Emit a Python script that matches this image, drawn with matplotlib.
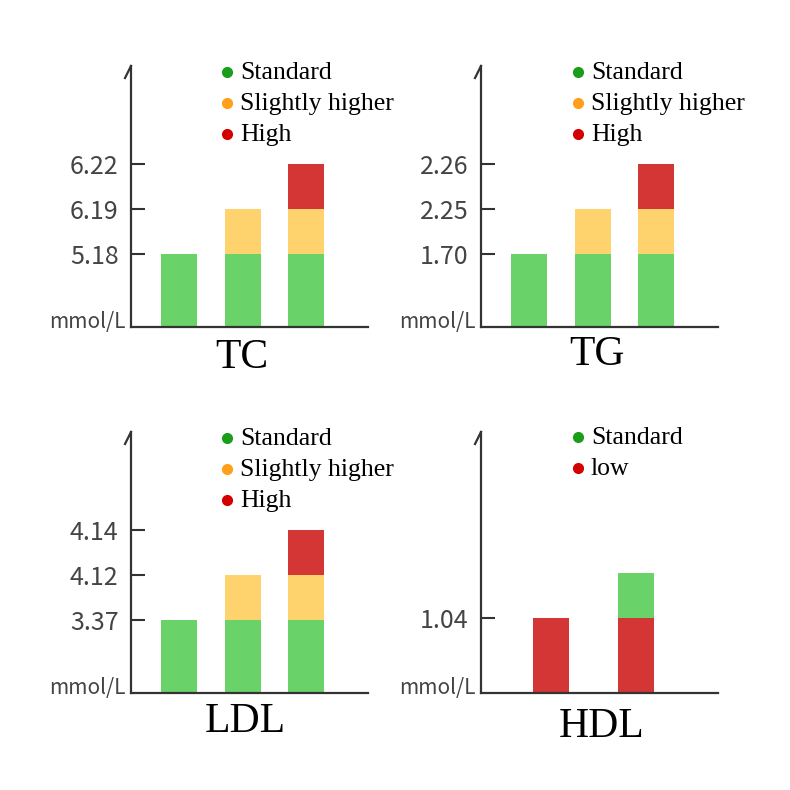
import matplotlib.pyplot as plt
from matplotlib.lines import Line2D

# panel names and the tick labels on each y axis
panels = ["TC", "TG", "LDL", "HDL"]
tick_labels = {
    "TC": ["5.18", "6.19", "6.22"],
    "TG": ["1.70", "2.25", "2.26"],
    "LDL": ["3.37", "4.12", "4.14"],
    "HDL": ["1.04"],
}

# stacked segment heights (in tick steps) for the three-bar panels
three_standard = [1.62, 1.62, 1.62]
three_slightly = [0, 1.0, 1.0]
three_high = [0, 0, 1.0]
three_legend = ["Standard", "Slightly higher", "High"]

# HDL: low part at bottom, standard on top
hdl_low = [1.67, 1.67]
hdl_standard = [0, 1.0]
hdl_legend = ["Standard", "low"]

bar_green = "#69d36a"
bar_yellow = "#fed36e"
bar_red = "#d43535"
dot_green = "#1a9e1a"
dot_orange = "#ff9f1a"
dot_red = "#d40000"
axis_col = "#333333"

W = H = 790
fig = plt.figure(figsize=(7.9, 7.9), dpi=100)

# pixel layout of each panel: axis left x, axis bottom y (from top)
layout = {
    "TC": (131, 327),
    "TG": (481, 327),
    "LDL": (131, 693),
    "HDL": (481, 693),
}
ax_w, ax_h = 237, 261
title_pos = {"TC": (242, 358), "TG": (597, 355), "LDL": (245, 722), "HDL": (602, 727)}
legend_pos = {"TC": (227, 72), "TG": (578, 72), "LDL": (227, 438), "HDL": (578, 437)}

serif = ["Liberation Serif", "DejaVu Serif"]
sans = ["Noto Sans CJK SC", "DejaVu Sans"]

for name in panels:
    x0, yb = layout[name]
    ax = fig.add_axes([x0 / W, (H - yb) / H, ax_w / W, ax_h / H])
    ax.set_ylim(0, ax_h / 45)

    if name == "HDL":
        spacing = 85
        ax.set_xlim(1 - 70 / spacing, 1 - 70 / spacing + ax_w / spacing)
        xs = [1, 2]
        bw = 36 / spacing
        ax.bar(xs, hdl_low, width=bw, color=bar_red)
        ax.bar(xs, hdl_standard, width=bw, bottom=hdl_low, color=bar_green)
        ticks = [hdl_low[0]]
        leg = hdl_legend
        dots = [dot_green, dot_red]
    else:
        spacing = 63.5
        ax.set_xlim(1 - 48 / spacing, 1 - 48 / spacing + ax_w / spacing)
        xs = [1, 2, 3]
        bw = 36 / spacing
        ax.bar(xs, three_standard, width=bw, color=bar_green)
        ax.bar(xs, three_slightly, width=bw, bottom=three_standard, color=bar_yellow)
        b2 = [a + b for a, b in zip(three_standard, three_slightly)]
        ax.bar(xs, three_high, width=bw, bottom=b2, color=bar_red)
        ticks = [three_standard[0], three_standard[0] + 1, three_standard[0] + 2]
        leg = three_legend
        dots = [dot_green, dot_orange, dot_red]

    for s in ["top", "right"]:
        ax.spines[s].set_visible(False)
    for s in ["left", "bottom"]:
        ax.spines[s].set_color(axis_col)
        ax.spines[s].set_linewidth(1.6)
    ax.set_xticks([])
    ax.set_yticks(ticks)
    ax.set_yticklabels(tick_labels[name], fontfamily=sans, fontsize=18, color="#444444")
    ax.tick_params(axis="y", direction="in", length=10, width=1.5, color=axis_col, pad=9)

    # half arrow at the top of the y axis
    fig.add_artist(Line2D([x0 / W, (x0 - 6) / W], [(H - yb + ax_h) / H, (H - yb + ax_h - 12) / H],
                          color=axis_col, lw=1.6))

    fig.text((x0 - 5) / W, (H - yb + 5) / H, "mmol/L", ha="right", va="center",
             fontfamily=sans, fontsize=15, color="#444444")

    tx, ty = title_pos[name]
    fig.text(tx / W, (H - ty) / H, name, ha="center", va="center",
             fontfamily=serif, fontsize=30, color="black")

    lx, ly = legend_pos[name]
    for i, (lab, c) in enumerate(zip(leg, dots)):
        yy = (H - (ly + i * 31)) / H
        fig.add_artist(Line2D([lx / W], [yy], marker="o", markersize=7, color=c, linestyle=""))
        fig.text((lx + 13) / W, yy - 1 / H, lab, ha="left", va="center",
                 fontfamily=serif, fontsize=18.5, color="black")

fig.savefig("out.png", dpi=100)
